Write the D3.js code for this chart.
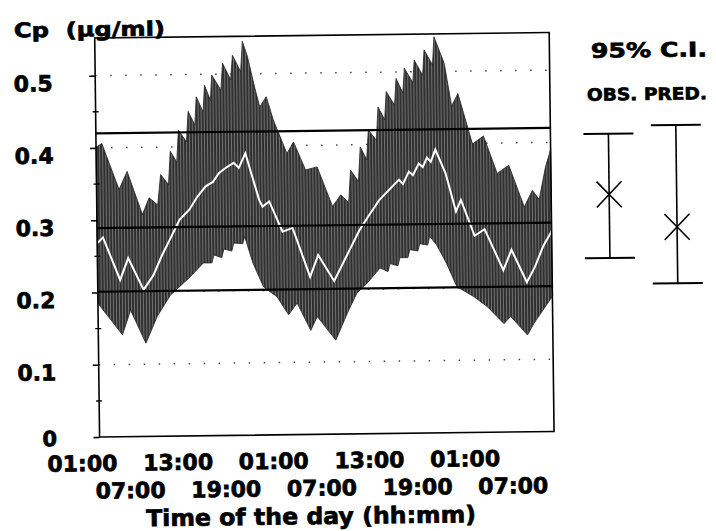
<!DOCTYPE html>
<html>
<head>
<meta charset="utf-8">
<script src="https://cdn.jsdelivr.net/npm/d3@7"></script>
<style>
  body { margin: 0; background: #fff; }
  svg text { font-family: "DejaVu Sans", sans-serif; font-weight: bold; fill: #000;
    stroke: #000; stroke-width: 0.7px; paint-order: stroke; }
</style>
</head>
<body>
<svg id="chart" width="716" height="531"></svg>
<script>
// time in hours after 01:00 of day 1, concentration in ug/ml
const upperBand = [
  [0, 0.401], [0.73, 0.406], [2.82, 0.342], [3.86, 0.367], [5.71, 0.307], [6.58, 0.330],
  [7.65, 0.320], [8.05, 0.362], [9.03, 0.348], [9.30, 0.394], [10.10, 0.379], [10.35, 0.423],
  [11.35, 0.407], [11.60, 0.449], [12.42, 0.430], [12.64, 0.469], [13.48, 0.448], [13.69, 0.485],
  [14.42, 0.464], [14.61, 0.499], [15.74, 0.478], [15.99, 0.515], [16.99, 0.492], [17.24, 0.526],
  [18.25, 0.503], [18.50, 0.545], [19.12, 0.524], [19.96, 0.482], [20.59, 0.454], [21.42, 0.468],
  [22.26, 0.436], [23.93, 0.389], [24.77, 0.405], [26.24, 0.366], [27.69, 0.370], [29.57, 0.315],
  [30.62, 0.331], [31.60, 0.320], [31.88, 0.365], [32.86, 0.349], [33.13, 0.397], [33.92, 0.379],
  [34.17, 0.420], [35.17, 0.406], [35.42, 0.452], [36.24, 0.434], [36.47, 0.473], [37.50, 0.454],
  [37.72, 0.491], [38.56, 0.471], [38.78, 0.505], [39.82, 0.485], [40.03, 0.516], [41.07, 0.495],
  [41.28, 0.530], [42.32, 0.509], [42.54, 0.548], [43.79, 0.511], [44.65, 0.452], [45.46, 0.469],
  [47.21, 0.399], [48.60, 0.410], [50.26, 0.358], [51.73, 0.369], [53.61, 0.311], [54.65, 0.334],
  [55.49, 0.321], [56.33, 0.366], [57.0, 0.390]
];

const lowerBand = [
  [0, 0.185], [3.03, 0.141], [4.08, 0.175], [5.96, 0.129], [7.42, 0.166], [9.09, 0.195],
  [11.60, 0.220], [13.27, 0.239], [14.36, 0.239], [14.61, 0.250], [15.61, 0.246], [15.86, 0.258],
  [16.87, 0.255], [17.12, 0.266], [18.25, 0.265], [18.50, 0.275], [19.50, 0.238], [20.79, 0.205],
  [22.47, 0.191], [23.89, 0.166], [24.98, 0.182], [26.65, 0.144], [27.49, 0.163], [29.78, 0.130],
  [31.25, 0.167], [32.50, 0.195], [33.76, 0.208], [35.43, 0.229], [36.43, 0.224], [36.68, 0.235],
  [37.68, 0.232], [37.93, 0.243], [38.94, 0.243], [39.19, 0.254], [40.19, 0.252], [40.44, 0.262],
  [41.44, 0.260], [41.70, 0.272], [42.57, 0.260], [43.79, 0.234], [45.04, 0.202], [47.13, 0.188],
  [48.81, 0.174], [50.89, 0.150], [51.73, 0.160], [53.82, 0.134], [54.65, 0.150], [57.0, 0.187]
];

const median = [
  [0, 0.268], [0.73, 0.276], [2.82, 0.217], [3.86, 0.247], [5.74, 0.203], [7.00, 0.223],
  [8.05, 0.249], [9.30, 0.276], [10.35, 0.299], [11.60, 0.313], [12.64, 0.331], [13.69, 0.345],
  [14.61, 0.351], [15.36, 0.363], [16.20, 0.370], [17.24, 0.377], [17.87, 0.370], [18.71, 0.390],
  [20.38, 0.325], [20.79, 0.316], [21.63, 0.323], [23.26, 0.281], [24.52, 0.286], [26.65, 0.218],
  [27.69, 0.248], [29.66, 0.212], [31.66, 0.255], [32.92, 0.282], [34.17, 0.303], [35.43, 0.323],
  [36.68, 0.337], [37.93, 0.351], [38.43, 0.345], [39.19, 0.362], [39.69, 0.357], [40.44, 0.373],
  [40.94, 0.368], [41.48, 0.381], [41.95, 0.375], [42.54, 0.392], [43.79, 0.359], [45.04, 0.306],
  [45.67, 0.322], [47.34, 0.272], [48.60, 0.281], [50.89, 0.224], [51.94, 0.252], [53.82, 0.207],
  [54.86, 0.228], [55.90, 0.256], [57.0, 0.277]
];

// horizontal lines: predicted 95% C.I. upper, mean, lower
const refLines = [0.420, 0.289, 0.201];

// legend bars: [low, centre, high]
const obsCI = [0.239, 0.327, 0.411];
const predCI = [0.203, 0.281, 0.422];

const yTicks = [0, 0.1, 0.2, 0.3, 0.4, 0.5];
const yMinorTicks = [0.05, 0.15, 0.25, 0.35, 0.45];
const yGrid = [0.1, 0.2, 0.3, 0.4, 0.5];
const row1Hours = [0, 12, 24, 36, 48];
const row1Labels = ["01:00", "13:00", "01:00", "13:00", "01:00"];
const row2Hours = [6, 18, 30, 42, 54];
const row2Labels = ["07:00", "19:00", "07:00", "19:00", "07:00"];

const svg = d3.select("#chart");
var margin = { top: 35.2, left: 97.5 };
const width = 454.5;
const height = 399;

// the scanned figure is slightly tilted
const root = svg.append("g").attr("transform", "rotate(-0.7,330,265)");

const defs = svg.append("defs");
const pat = defs.append("pattern")
    .attr("id", "hatch")
    .attr("patternUnits", "userSpaceOnUse")
    .attr("width", 3)
    .attr("height", 10);
pat.append("rect").attr("width", 3).attr("height", 10).attr("fill", "#303030");
pat.append("rect").attr("width", 0.7).attr("height", 10).attr("fill", "#8c8c8c");

const g = root.append("g").attr("transform", "translate(" + margin.left + "," + margin.top + ")");

const x = d3.scaleLinear().domain([0, 57]).range([0, width]);
const y = d3.scaleLinear().domain([0, 0.552]).range([height, 0]);

// dotted grid
g.selectAll(".grid")
    .data(yGrid)
    .enter().append("line")
    .attr("x1", 0).attr("x2", width)
    .attr("y1", d => y(d)).attr("y2", d => y(d))
    .attr("stroke", "#444")
    .attr("stroke-width", 1.5)
    .attr("stroke-dasharray", "1.5,13.5");

// band between upper and lower limits
const line = d3.line().x(d => x(d[0])).y(d => y(d[1]));
g.append("path")
    .attr("d", line(upperBand.concat(lowerBand.slice().reverse())) + "Z")
    .attr("fill", "url(#hatch)")
    .attr("stroke", "#222")
    .attr("stroke-width", 0.8);

g.append("path")
    .attr("d", line(median))
    .attr("fill", "none")
    .attr("stroke", "#fff")
    .attr("stroke-width", 2);

g.selectAll(".ref")
    .data(refLines)
    .enter().append("line")
    .attr("x1", 0).attr("x2", width)
    .attr("y1", d => y(d)).attr("y2", d => y(d))
    .attr("stroke", "#000")
    .attr("stroke-width", 2.2);

// frame
g.append("rect")
    .attr("x", 0).attr("y", 0)
    .attr("width", width).attr("height", height)
    .attr("fill", "none")
    .attr("stroke", "#000")
    .attr("stroke-width", 1.6);

// y axis
const yAxis = g.append("g")
    .call(d3.axisLeft(y).tickValues(yTicks).tickSize(6).tickPadding(36.5)
        .tickFormat(d => d === 0 ? "0" : d3.format(".1f")(d)));
yAxis.select(".domain").remove();
yAxis.attr("font-family", null).attr("font-size", null);
yAxis.selectAll("line").attr("stroke-width", 1.6);
yAxis.selectAll("text")
    .attr("dy", d => d === 0 ? 8 : 14.5)
    .style("font-size", d => d === 0 ? "21px" : "22px");

g.selectAll(".minor")
    .data(yMinorTicks)
    .enter().append("line")
    .attr("x1", -3).attr("x2", 3)
    .attr("y1", d => y(d)).attr("y2", d => y(d))
    .attr("stroke", "#000")
    .attr("stroke-width", 1.4);

// x labels in two staggered rows
function xRow(hours, labels, yOff) {
    const ax = g.append("g")
        .attr("transform", "translate(0," + height + ")")
        .call(d3.axisBottom(x).tickValues(hours).tickSize(0)
            .tickFormat((d, i) => labels[i]));
    ax.select(".domain").remove();
    ax.attr("font-family", null).attr("font-size", null);
    ax.selectAll("text")
        .attr("y", yOff)
        .attr("dy", 0)
        .attr("dx", -18)
        .style("font-size", "22px");
}
xRow(row1Hours, row1Labels, 34);
xRow(row2Hours, row2Labels, 61.5);

root.append("text")
    .attr("x", 308).attr("y", 524)
    .attr("text-anchor", "middle")
    .attr("textLength", 330)
    .attr("lengthAdjust", "spacingAndGlyphs")
    .style("font-size", "23px")
    .text("Time of the day (hh:mm)");

root.append("text")
    .attr("x", 16.8).attr("y", 33.5)
    .attr("textLength", 151)
    .attr("lengthAdjust", "spacingAndGlyphs")
    .style("font-size", "20px")
    .text("Cp\u00a0\u00a0(\u00b5g/ml)");

// legend
root.append("text")
    .attr("x", 651.5).attr("y", 60.9)
    .attr("text-anchor", "middle")
    .attr("textLength", 116)
    .attr("lengthAdjust", "spacingAndGlyphs")
    .style("font-size", "20px")
    .text("95% C.I.");

root.append("text")
    .attr("x", 649).attr("y", 103.9)
    .attr("text-anchor", "middle")
    .attr("textLength", 120)
    .attr("lengthAdjust", "spacingAndGlyphs")
    .style("font-size", "17px")
    .text("OBS. PRED.");

const legend = [
    { name: "OBS.", cx: 610, ci: obsCI },
    { name: "PRED.", cx: 677.5, ci: predCI }
];
const lg = root.append("g").attr("transform", "translate(0," + margin.top + ")");
legend.forEach(b => {
    const s = lg.append("g").attr("stroke", "#000").attr("fill", "none");
    s.append("line")
        .attr("x1", b.cx).attr("x2", b.cx)
        .attr("y1", y(b.ci[0])).attr("y2", y(b.ci[2]))
        .attr("stroke-width", 1.6);
    [b.ci[0], b.ci[2]].forEach(v => {
        s.append("line")
            .attr("x1", b.cx - 25).attr("x2", b.cx + 25)
            .attr("y1", y(v)).attr("y2", y(v))
            .attr("stroke-width", 2);
    });
    const m = y(b.ci[1]);
    s.append("path")
        .attr("d", "M" + (b.cx - 12.5) + "," + (m - 13) + "L" + (b.cx + 12.5) + "," + (m + 13) +
            "M" + (b.cx - 12.5) + "," + (m + 13) + "L" + (b.cx + 12.5) + "," + (m - 13))
        .attr("stroke-width", 1.6);
});
</script>
</body>
</html>
